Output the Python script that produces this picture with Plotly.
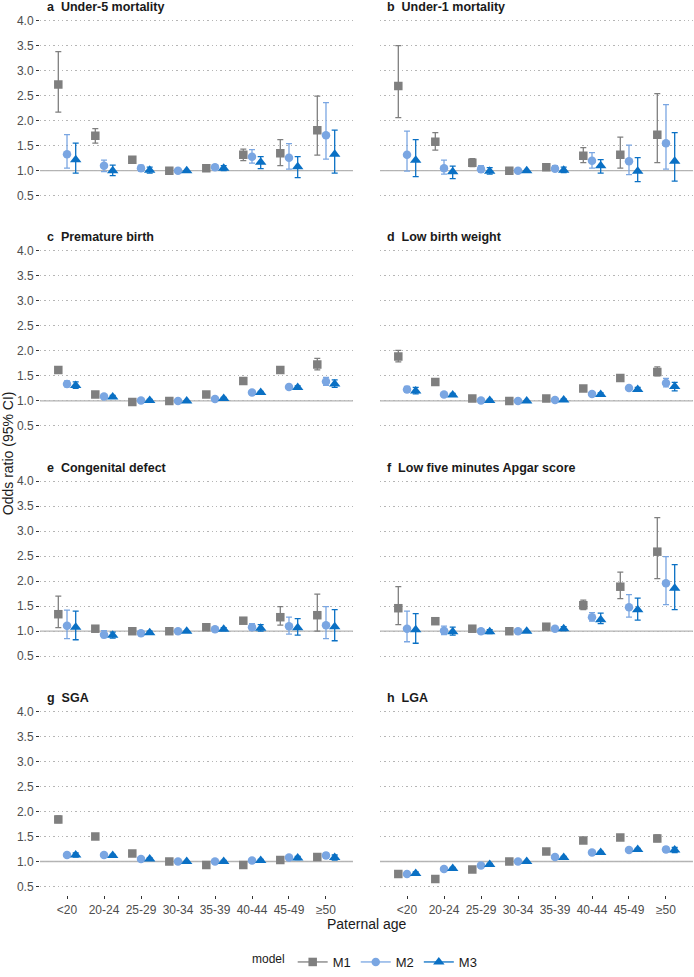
import numpy as np
import plotly.graph_objects as go

ages = ["<20", "20-24", "25-29", "30-34", "35-39", "40-44", "45-49", "≥50"]
models = ["M1", "M2", "M3"]

# ---- a Under-5 mortality ----
u5_or = [[2.72, 1.70, 1.22, 1.00, 1.05, 1.32, 1.35, 1.81],
         [1.33, 1.10, 1.05, 1.00, 1.07, 1.28, 1.26, 1.71],
         [1.22, 1.00, 1.01, 1.00, 1.05, 1.17, 1.08, 1.33]]
u5_lo = [[2.17, 1.55, 1.16, 1.00, 1.01, 1.20, 1.10, 1.31],
         [1.05, 0.98, 0.99, 1.00, 1.02, 1.15, 1.03, 1.23],
         [0.95, 0.90, 0.95, 1.00, 1.00, 1.04, 0.86, 0.95]]
u5_hi = [[3.38, 1.84, 1.28, 1.00, 1.09, 1.43, 1.62, 2.49],
         [1.72, 1.21, 1.11, 1.00, 1.12, 1.42, 1.54, 2.36],
         [1.55, 1.11, 1.07, 1.00, 1.10, 1.28, 1.28, 1.81]]

# ---- b Under-1 mortality ----
u1_or = [[2.69, 1.58, 1.16, 1.00, 1.07, 1.30, 1.32, 1.72],
         [1.32, 1.05, 1.03, 1.00, 1.04, 1.20, 1.19, 1.55],
         [1.21, 0.98, 0.99, 1.00, 1.01, 1.10, 0.99, 1.19]]
u1_lo = [[2.06, 1.41, 1.08, 1.00, 1.01, 1.16, 1.05, 1.16],
         [0.99, 0.93, 0.97, 1.00, 0.99, 1.05, 0.92, 1.03],
         [0.88, 0.84, 0.93, 1.00, 0.96, 0.95, 0.78, 0.79]]
u1_hi = [[3.50, 1.76, 1.24, 1.00, 1.13, 1.46, 1.67, 2.54],
         [1.79, 1.21, 1.10, 1.00, 1.10, 1.36, 1.51, 2.32],
         [1.62, 1.09, 1.06, 1.00, 1.07, 1.22, 1.26, 1.76]]

# ---- c Premature birth ----
pb_or = [[1.62, 1.13, 0.98, 1.00, 1.13, 1.40, 1.62, 1.73],
         [1.34, 1.09, 1.01, 1.00, 1.04, 1.17, 1.28, 1.39],
         [1.31, 1.08, 1.01, 1.00, 1.05, 1.17, 1.27, 1.34]]
pb_lo = [[1.56, 1.10, 0.96, 1.00, 1.10, 1.37, 1.59, 1.62],
         [1.28, 1.06, 0.99, 1.00, 1.02, 1.15, 1.25, 1.31],
         [1.25, 1.05, 0.99, 1.00, 1.03, 1.15, 1.24, 1.27]]
pb_hi = [[1.68, 1.16, 1.00, 1.00, 1.16, 1.43, 1.65, 1.85],
         [1.40, 1.12, 1.03, 1.00, 1.06, 1.19, 1.31, 1.47],
         [1.38, 1.11, 1.03, 1.00, 1.07, 1.19, 1.30, 1.42]]

# ---- d Low birth weight ----
lbw_or = [[1.89, 1.38, 1.05, 1.00, 1.05, 1.25, 1.46, 1.58],
          [1.23, 1.13, 1.01, 1.00, 1.02, 1.14, 1.26, 1.36],
          [1.20, 1.12, 1.01, 1.00, 1.02, 1.13, 1.23, 1.29]]
lbw_lo = [[1.78, 1.34, 1.02, 1.00, 1.02, 1.22, 1.42, 1.50],
          [1.17, 1.10, 0.99, 1.00, 1.00, 1.11, 1.22, 1.28],
          [1.14, 1.09, 0.99, 1.00, 1.00, 1.10, 1.19, 1.20]]
lbw_hi = [[2.01, 1.42, 1.08, 1.00, 1.08, 1.28, 1.50, 1.68],
          [1.29, 1.16, 1.03, 1.00, 1.04, 1.17, 1.30, 1.45],
          [1.27, 1.15, 1.03, 1.00, 1.04, 1.16, 1.27, 1.37]]

# ---- e Congenital defect ----
cd_or = [[1.34, 1.05, 1.00, 1.00, 1.08, 1.21, 1.28, 1.32],
         [1.11, 0.93, 0.96, 1.00, 1.04, 1.08, 1.10, 1.12],
         [1.08, 0.92, 0.97, 1.00, 1.04, 1.06, 1.07, 1.09]]
cd_lo = [[1.07, 1.00, 0.97, 1.00, 1.04, 1.16, 1.12, 1.00],
         [0.85, 0.87, 0.93, 1.00, 1.01, 1.02, 0.94, 0.85],
         [0.83, 0.86, 0.94, 1.00, 1.01, 1.00, 0.92, 0.81]]
cd_hi = [[1.70, 1.10, 1.03, 1.00, 1.12, 1.26, 1.49, 1.74],
         [1.42, 1.01, 0.99, 1.00, 1.07, 1.15, 1.28, 1.49],
         [1.40, 0.98, 1.00, 1.00, 1.07, 1.13, 1.25, 1.43]]

# ---- f Low five minutes Apgar score ----
ap_or = [[1.46, 1.20, 1.05, 1.00, 1.09, 1.52, 1.89, 2.59],
         [1.05, 1.01, 1.00, 1.00, 1.05, 1.28, 1.48, 1.96],
         [1.03, 0.99, 0.99, 1.00, 1.05, 1.23, 1.43, 1.86]]
ap_lo = [[1.13, 1.14, 1.01, 1.00, 1.05, 1.43, 1.65, 2.05],
         [0.79, 0.93, 0.96, 1.00, 1.01, 1.20, 1.28, 1.53],
         [0.76, 0.92, 0.95, 1.00, 1.01, 1.15, 1.22, 1.43]]
ap_hi = [[1.89, 1.26, 1.09, 1.00, 1.13, 1.62, 2.18, 3.27],
         [1.40, 1.10, 1.04, 1.00, 1.09, 1.37, 1.73, 2.49],
         [1.35, 1.08, 1.03, 1.00, 1.09, 1.36, 1.66, 2.33]]

# ---- g SGA ----
sga_or = [[1.84, 1.50, 1.16, 1.00, 0.93, 0.93, 1.03, 1.09],
          [1.13, 1.13, 1.05, 1.00, 1.00, 1.02, 1.08, 1.12],
          [1.13, 1.12, 1.05, 1.00, 1.00, 1.02, 1.07, 1.08]]
sga_lo = [[1.78, 1.47, 1.14, 1.00, 0.91, 0.91, 1.00, 1.04],
          [1.09, 1.11, 1.03, 1.00, 0.98, 1.00, 1.05, 1.07],
          [1.09, 1.10, 1.03, 1.00, 0.98, 1.00, 1.04, 1.03]]
sga_hi = [[1.91, 1.53, 1.18, 1.00, 0.95, 0.95, 1.06, 1.14],
          [1.17, 1.15, 1.07, 1.00, 1.02, 1.04, 1.11, 1.17],
          [1.17, 1.14, 1.07, 1.00, 1.02, 1.04, 1.10, 1.13]]

# ---- h LGA ----
lga_or = [[0.75, 0.65, 0.84, 1.00, 1.20, 1.42, 1.48, 1.46],
          [0.75, 0.85, 0.92, 1.00, 1.09, 1.18, 1.23, 1.24],
          [0.76, 0.86, 0.94, 1.00, 1.08, 1.18, 1.24, 1.23]]
lga_lo = [[0.72, 0.63, 0.82, 1.00, 1.18, 1.40, 1.45, 1.40],
          [0.72, 0.83, 0.90, 1.00, 1.07, 1.16, 1.21, 1.19],
          [0.73, 0.84, 0.92, 1.00, 1.06, 1.16, 1.22, 1.18]]
lga_hi = [[0.78, 0.67, 0.86, 1.00, 1.22, 1.44, 1.51, 1.53],
          [0.78, 0.87, 0.94, 1.00, 1.11, 1.20, 1.25, 1.29],
          [0.79, 0.88, 0.96, 1.00, 1.10, 1.20, 1.26, 1.28]]

panels = [
    ("a", "Under-5 mortality", u5_or, u5_lo, u5_hi),
    ("b", "Under-1 mortality", u1_or, u1_lo, u1_hi),
    ("c", "Premature birth", pb_or, pb_lo, pb_hi),
    ("d", "Low birth weight", lbw_or, lbw_lo, lbw_hi),
    ("e", "Congenital defect", cd_or, cd_lo, cd_hi),
    ("f", "Low five minutes Apgar score", ap_or, ap_lo, ap_hi),
    ("g", "SGA", sga_or, sga_lo, sga_hi),
    ("h", "LGA", lga_or, lga_lo, lga_hi),
]

colors = ["#7f7f7f", "#7aa6e2", "#0a70c4"]
symbols = ["square", "circle", "triangle-up"]
sizes = [8.5, 8.5, 10]
dodge = [-0.235, 0.0, 0.235]
yticks = [0.5, 1.0, 1.5, 2.0, 2.5, 3.0, 3.5, 4.0]

W, H = 694, 977
col_px = [(40, 353), (380, 693)]
row_top0, row_pitch, panel_h = 11.9, 231.7, 193.8
FONT = "Liberation Sans, Arial, sans-serif"

fig = go.Figure()
layout = dict(width=W, height=H, margin=dict(l=0, r=0, t=0, b=0),
              paper_bgcolor="white", plot_bgcolor="white",
              font=dict(family=FONT, color="#1a1a1a"),
              showlegend=True, shapes=[], annotations=[])

base_x = np.arange(len(ages))
for i, (letter, title, o, lo, hi) in enumerate(panels):
    r, c = divmod(i, 2)
    k = i + 1
    xs = "x" if k == 1 else f"x{k}"
    ys = "y" if k == 1 else f"y{k}"
    x0, x1 = col_px[c]
    top = row_top0 + r * row_pitch
    bot = top + panel_h
    layout["xaxis" if k == 1 else f"xaxis{k}"] = dict(
        domain=[x0 / W, x1 / W], range=[-0.73, 7.73], anchor=ys,
        showgrid=False, zeroline=False, showline=False,
        tickmode="array", tickvals=list(base_x), ticktext=ages,
        showticklabels=(r == 3), ticks="outside" if r == 3 else "",
        ticklen=3, tickwidth=1, tickcolor="#333333",
        tickfont=dict(size=12, color="#4d4d4d", family=FONT))
    layout["yaxis" if k == 1 else f"yaxis{k}"] = dict(
        domain=[1 - bot / H, 1 - top / H], range=[0.325, 4.175], anchor=xs,
        showgrid=True, gridcolor="#b5b5b5", griddash="1.4px,3px", gridwidth=1,
        zeroline=False, showline=False,
        tickmode="array", tickvals=yticks, ticktext=[f"{v:.1f}" for v in yticks],
        showticklabels=(c == 0), ticks="outside" if c == 0 else "",
        ticklen=3, tickwidth=1, tickcolor="#333333",
        tickfont=dict(size=12, color="#4d4d4d", family=FONT))
    layout["shapes"].append(dict(type="line", xref=f"{xs} domain", x0=0, x1=1,
                                 yref=ys, y0=1, y1=1, layer="below",
                                 line=dict(color="#b3b3b3", width=1.3)))
    layout["annotations"].append(dict(
        text=f"<b>{letter}\u00a0\u00a0{title}</b>", xref="paper", yref="paper",
        x=(x0 + 5) / W, y=min(1.0, 1 - (top - 11.8) / H), xanchor="left", yanchor="top",
        yshift=2, showarrow=False, font=dict(size=12.5, color="#1a1a1a", family=FONT)))
    for m in range(3):
        orr = np.array(o[m]); l = np.array(lo[m]); h = np.array(hi[m])
        fig.add_trace(go.Scatter(
            x=base_x + dodge[m], y=orr, xaxis=xs, yaxis=ys, mode="markers",
            showlegend=False, name=models[m],
            marker=dict(symbol=symbols[m], size=sizes[m], color=colors[m]),
            error_y=dict(type="data", symmetric=False, array=h - orr,
                         arrayminus=orr - l, color=colors[m], thickness=1.3, width=3)))

# legend-only traces
for m in range(3):
    fig.add_trace(go.Scatter(x=[None], y=[None], mode="lines+markers", name=models[m],
                             marker=dict(symbol=symbols[m], size=sizes[m], color=colors[m]),
                             line=dict(color=colors[m], width=1.3), showlegend=True))

layout["annotations"].append(dict(
    text="Odds ratio (95% CI)", xref="paper", yref="paper", x=8 / W, y=1 - 456 / H,
    textangle=-90, xanchor="center", yanchor="middle", showarrow=False,
    font=dict(size=14, color="#1a1a1a", family=FONT)))
layout["annotations"].append(dict(
    text="Paternal age", xref="paper", yref="paper", x=367 / W, y=1 - 929.5 / H,
    xanchor="center", yanchor="middle", showarrow=False,
    font=dict(size=14, color="#1a1a1a", family=FONT)))
layout["legend"] = dict(orientation="h", x=366 / W, xanchor="center", y=1 - 968 / H,
                        yanchor="middle", title=dict(text="model", font=dict(size=12)),
                        font=dict(size=13, family=FONT, color="#1a1a1a"),
                        itemwidth=30, bgcolor="rgba(0,0,0,0)")

fig.update_layout(**layout)
fig.write_html("out.html")
